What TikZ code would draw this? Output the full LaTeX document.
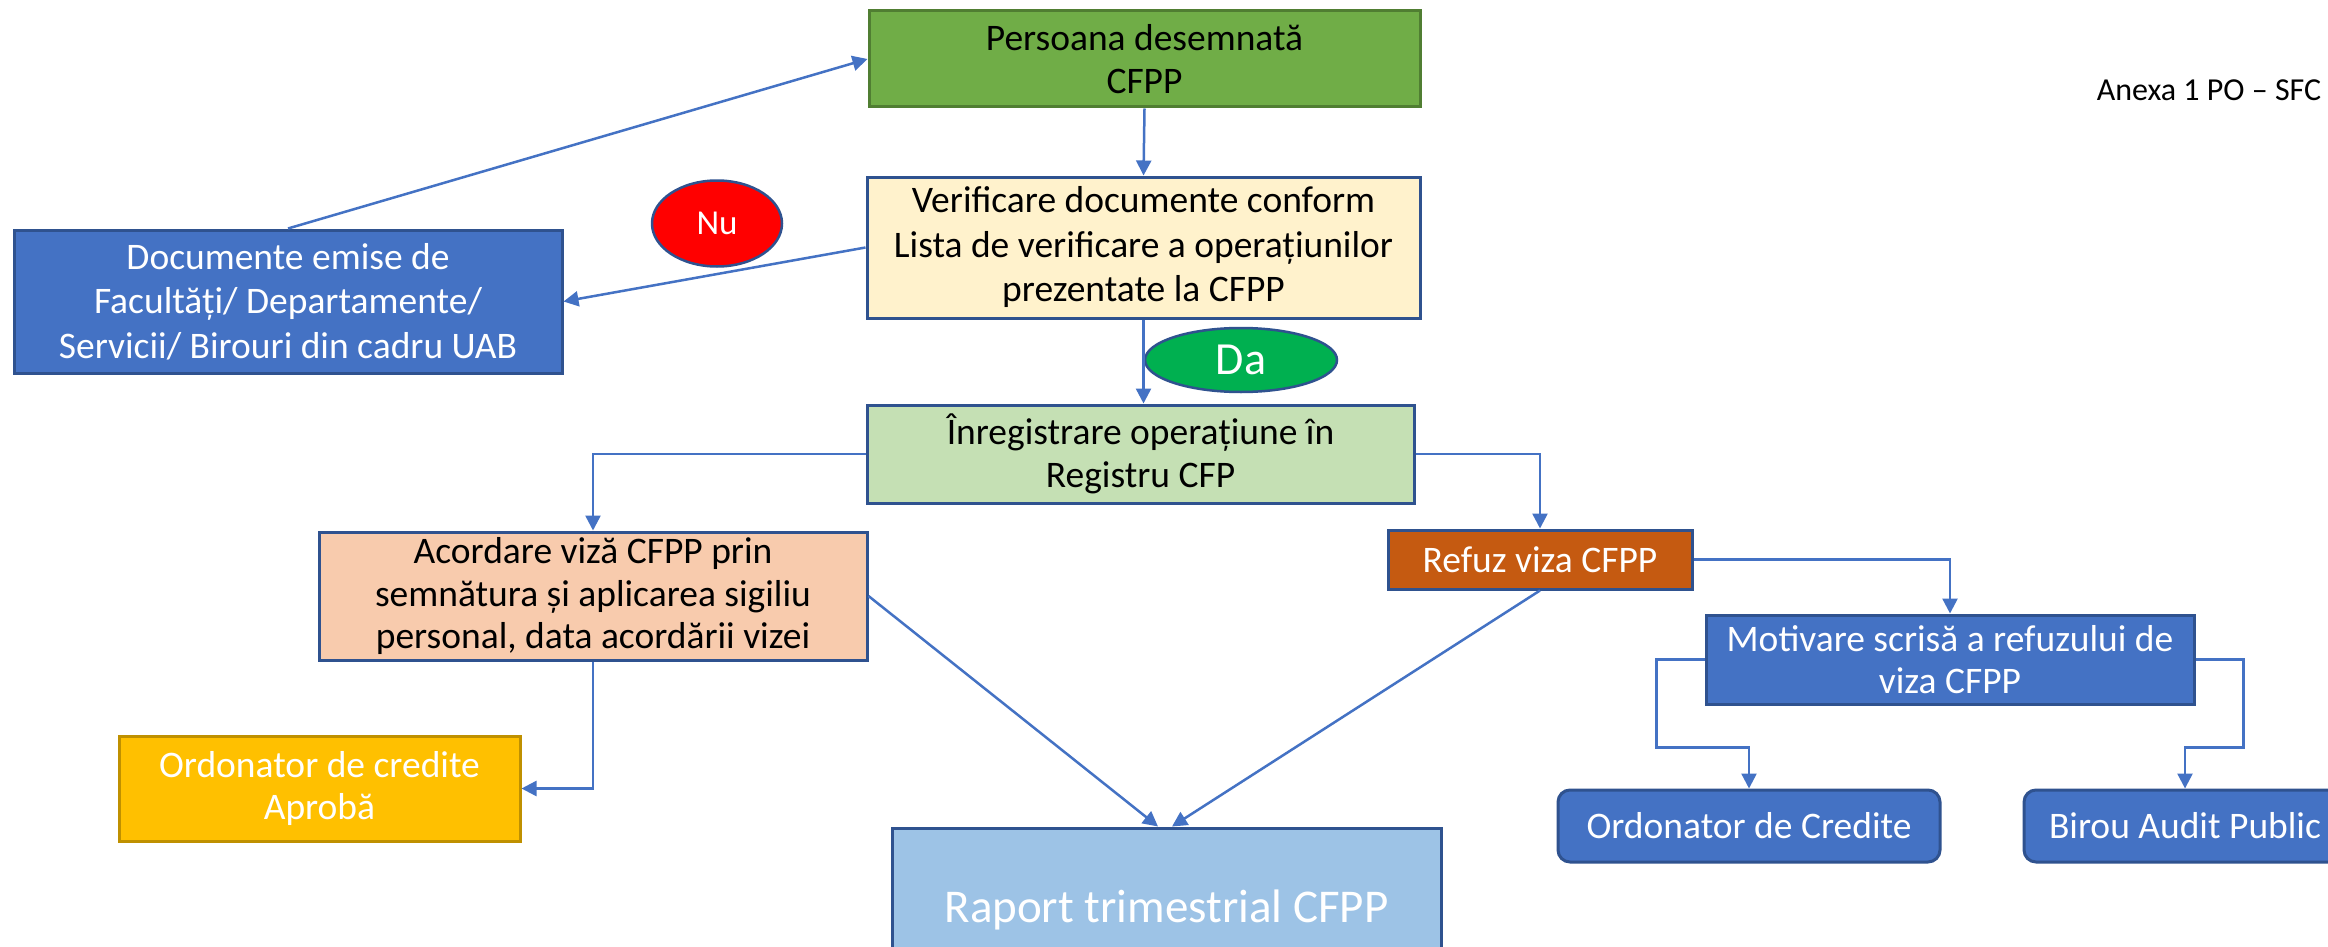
\documentclass[tikz,border=0pt]{standalone}
\usepackage{fontspec}
\setmainfont{Carlito}
\usetikzlibrary{arrows.meta,shapes.geometric}
\definecolor{bord}{HTML}{2F528F}
\definecolor{ln}{HTML}{4472C4}
\definecolor{pgreen}{HTML}{70AD47}
\definecolor{pgreenb}{HTML}{507E32}
\definecolor{cream}{HTML}{FFF2CC}
\definecolor{mblue}{HTML}{4472C4}
\definecolor{lgreen}{HTML}{C5E0B4}
\definecolor{peach}{HTML}{F8CBAD}
\definecolor{rust}{HTML}{C55A11}
\definecolor{gold}{HTML}{FFC000}
\definecolor{goldb}{HTML}{BF9000}
\definecolor{sky}{HTML}{9DC3E6}
\definecolor{dagreen}{HTML}{00B050}
\begin{document}
\begin{tikzpicture}[x=1pt,y=-1pt,
  box/.style={draw=bord, line width=3pt, inner sep=3pt, align=center, font=\fontsize{37.5}{42.5}\selectfont},
  wbox/.style={box, text=white},
  oval/.style={ellipse, draw=bord, line width=2.5pt, inner sep=0pt, text=white},
  conn/.style={draw=ln, line width=2.5pt, -{Triangle[width=15pt,length=15pt]}}]
\clip (0,0) rectangle (2328,947);
\fill[white] (0,0) rectangle (2328,947);

\node[box, fill=pgreen, draw=pgreenb, minimum width=551pt, minimum height=96pt] (pers) at (1144.5,59) {Persoana desemnată\\CFPP};
\node[box, fill=cream, minimum width=553pt, minimum height=141pt, font=\fontsize{37.5}{44.5}\selectfont] (verif) at (1143.5,247.5) {Verificare documente conform\\Lista de verificare a operațiunilor\\prezentate la CFPP};
\node[wbox, fill=mblue, minimum width=548pt, minimum height=143pt, font=\fontsize{37.5}{44.5}\selectfont] (docs) at (288,301.5) {Documente emise de\\Facultăți/ Departamente/\\Servicii/ Birouri din cadru UAB};
\node[oval, fill=red, minimum width=130pt, minimum height=86pt, font=\fontsize{35}{40}\selectfont] (nu) at (717,223.5) {Nu};
\node[oval, fill=dagreen, minimum width=192pt, minimum height=64pt, font=\fontsize{46}{50}\selectfont] (da) at (1241,360) {Da};
\node[box, fill=lgreen, minimum width=547pt, minimum height=98pt] (inreg) at (1140.5,454) {Înregistrare operațiune în\\Registru CFP};
\node[box, fill=peach, minimum width=548pt, minimum height=128pt] (acord) at (593,596) {Acordare viză CFPP prin\\semnătura și aplicarea sigiliu\\personal, data acordării vizei};
\node[wbox, fill=rust, minimum width=304pt, minimum height=59pt] (refuz) at (1540,559.5) {Refuz viza CFPP};
\node[wbox, fill=mblue, minimum width=488pt, minimum height=89pt] (motiv) at (1950,659.5) {Motivare scrisă a refuzului de\\viza CFPP};
\node[wbox, fill=gold, draw=goldb, minimum width=401pt, minimum height=105pt] (ordcred) at (319.5,788.5) {Ordonator de credite\\Aprobă};
\node[wbox, fill=sky, minimum width=549pt, minimum height=164pt, font=\fontsize{47}{54}\selectfont] (raport) at (1166.5,910) {Raport trimestrial CFPP};
\node[wbox, fill=mblue, rounded corners=12pt, minimum width=382pt, minimum height=72pt] (ordC) at (1749,826) {Ordonator de Credite};
\node[wbox, fill=mblue, rounded corners=12pt, minimum width=322pt, minimum height=72pt] (birou) at (2185,826) {Birou Audit Public};
\node[inner sep=0pt, font=\fontsize{32}{38}\selectfont] (anexa) at (2209,90) {Anexa 1 PO – SFC};

\draw[conn] (docs.north) -- (pers.west);
\draw[conn] (verif.west) -- (docs.east);
\draw[conn] (pers.south) -- (verif.north);
\draw[conn] (verif.south) -- (verif.south |- inreg.north);
\draw[conn] (inreg.west) -| (acord.north);
\draw[conn] (inreg.east) -| (refuz.north);
\draw[conn] (acord.south) |- (ordcred.east);
\draw[conn] (acord.east) -- ([xshift=-8.5pt]raport.north);
\draw[conn] (refuz.south) -- ([xshift=5.5pt]raport.north);
\draw[conn] (refuz.east) -| (motiv.north);
\draw[conn] (motiv.west) -- ++(-48,0) -- ++(0,88) -| (ordC.north);
\draw[conn] (motiv.east) -- ++(48,0) -- ++(0,88) -| (birou.north);
\end{tikzpicture}
\end{document}
